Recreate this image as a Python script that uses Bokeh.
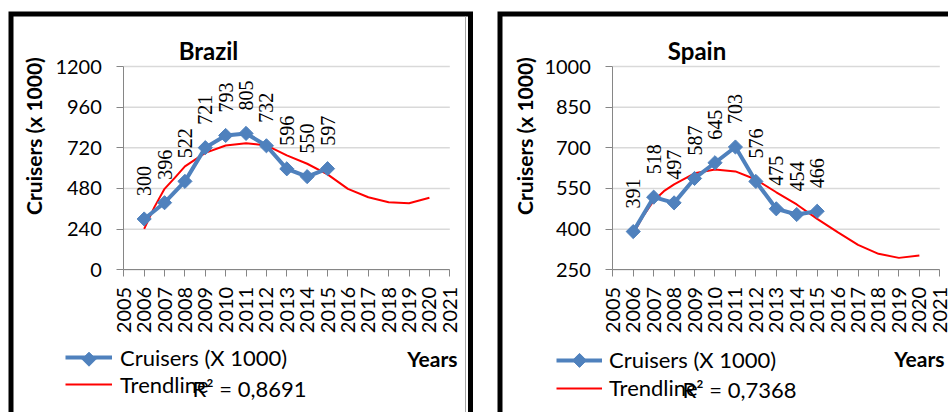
import math

from bokeh.embed import file_html
from bokeh.layouts import row
from bokeh.models import (BoxAnnotation, ColumnDataSource, FixedTicker, Label,
                          LabelSet, Legend, LegendItem, LinearAxis,
                          PolyAnnotation, Range1d)
from bokeh.plotting import figure
from bokeh.resources import INLINE

# ---- data -----------------------------------------------------------------
years = [2006, 2007, 2008, 2009, 2010, 2011, 2012, 2013, 2014, 2015]
brazil_cruisers = [300, 396, 522, 721, 793, 805, 732, 596, 550, 597]
spain_cruisers = [391, 518, 497, 587, 645, 703, 576, 475, 454, 466]

trend_years = [2006, 2006.5, 2007, 2007.5, 2008, 2009, 2010, 2011, 2012,
               2013, 2014, 2015, 2016, 2017, 2018, 2019, 2020]
brazil_trend = [242, 370, 478, 543, 610, 690, 734, 747, 734,
                675, 626, 563, 478, 428, 399, 393, 425]
spain_trend = [383, 450, 505, 540, 565, 606, 620, 613, 583,
               536, 491, 438, 389, 342, 309, 294, 303]

axis_years = list(range(2005, 2022))
brazil_yticks = [0, 240, 480, 720, 960, 1200]
spain_yticks = [250, 400, 550, 700, 850, 1000]

brazil_r2 = "R² = 0,8691"
spain_r2 = "R² = 0,7368"

# ---- styling ----------------------------------------------------------------
FONT = "Lato"
BLUE = "#4F81BD"
RED = "#FF0000"
AXIS_GRAY = "#868686"
GRID_GRAY = "#D9D9D9"
HEIGHT = 412
PLOT_TOP, PLOT_BOTTOM = 66, 269.3   # pixel rows of the value-axis ends


def span_range(size, px_lo, px_hi, v_lo, v_hi):
    """Range whose values v_lo/v_hi land at pixels px_lo/px_hi of a frame of `size` px."""
    scale = (px_hi - px_lo) / (v_hi - v_lo)
    return Range1d(v_lo - px_lo / scale, v_hi + (size - px_hi) / scale)


def make_panel(name, values, trend, yticks, r2_text, width, x_px, box,
               legend_cfg, title_x, ylabel_x, years_right, r2_x, r2_y,
               inner_line=None):
    x_lo, x_hi = axis_years[0], axis_years[-1]
    y_lo, y_hi = yticks[0], yticks[-1]
    # the frame fills the whole canvas; axes sit at fixed positions inside it
    p = figure(width=width, height=HEIGHT, output_backend="svg",
               toolbar_location=None, x_axis_type=None, y_axis_type=None,
               x_range=span_range(width, x_px[0], x_px[1], x_lo, x_hi),
               y_range=span_range(HEIGHT, HEIGHT - PLOT_BOTTOM, HEIGHT - PLOT_TOP, y_lo, y_hi),
               min_border=0)
    p.outline_line_color = None
    p.background_fill_color = "white"
    p.border_fill_color = "white"
    p.xgrid.visible = False
    p.ygrid.visible = False

    xaxis = LinearAxis(fixed_location=y_lo, bounds=(x_lo, x_hi),
                       ticker=FixedTicker(ticks=axis_years))
    yaxis = LinearAxis(fixed_location=x_lo, bounds=(y_lo, y_hi),
                       ticker=FixedTicker(ticks=yticks))
    for ax in (xaxis, yaxis):
        ax.axis_line_color = AXIS_GRAY
        ax.major_tick_line_color = AXIS_GRAY
        ax.major_tick_out = 7
        ax.major_tick_in = 0
        ax.minor_tick_line_color = None
        ax.major_label_text_font = FONT
        ax.major_label_text_font_size = "20px"
        ax.major_label_text_color = "black"
    xaxis.major_label_orientation = math.pi / 2
    xaxis.major_label_standoff = 10
    yaxis.major_label_standoff = 15
    p.add_layout(xaxis, "below")
    p.add_layout(yaxis, "left")

    # horizontal gridlines across the plot area only
    p.segment(x0=[x_lo] * len(yticks), x1=[x_hi] * len(yticks), y0=yticks, y1=yticks,
              line_color=GRID_GRAY, line_width=1.5, level="underlay")

    # series
    src = ColumnDataSource(dict(x=years, y=values, t=[str(v) for v in values]))
    tsrc = ColumnDataSource(dict(x=trend_years, y=trend))
    trend_r = p.line("x", "y", source=tsrc, line_color=RED, line_width=2)
    line_r = p.line("x", "y", source=src, line_color=BLUE, line_width=4)
    p.scatter("x", "y", source=src, marker="square", angle=math.pi / 4,
              size=10, fill_color=BLUE, line_color=BLUE)

    p.add_layout(LabelSet(x="x", y="y", text="t", source=src, angle=math.pi / 2,
                          y_offset=23, text_align="left",
                          text_baseline="middle", text_font=FONT,
                          text_font_size="20px", text_color="black"))

    # black frame around the chart
    p.add_layout(BoxAnnotation(left=box[0], right=box[1], top=HEIGHT - box[2], bottom=-20,
                               left_units="screen", right_units="screen",
                               top_units="screen", bottom_units="screen",
                               fill_alpha=0, line_color="black", line_alpha=1,
                               line_width=5, line_join="miter"))
    if inner_line is not None:
        p.add_layout(BoxAnnotation(left=inner_line - 0.5, right=inner_line + 0.5,
                                   top=HEIGHT - 16, bottom=-20,
                                   left_units="screen", right_units="screen",
                                   top_units="screen", bottom_units="screen",
                                   fill_color="#A6A6A6", fill_alpha=1, line_alpha=0))

    def text(x, y, s, size, bold=False, align="center", angle=0.0):
        p.add_layout(Label(x=x, y=HEIGHT - y, x_units="screen", y_units="screen",
                           text=s, angle=angle, text_font=FONT,
                           text_font_style="bold" if bold else "normal",
                           text_font_size=size, text_align=align,
                           text_baseline="middle", text_color="black"))

    text(title_x, 50, name, "24px", bold=True)
    text(ylabel_x, 135.5, "Cruisers (x 1000)", "21px", bold=True, angle=math.pi / 2)
    text(years_right, 358, "Years", "21px", bold=True, align="right")

    # legend
    glyph_w, glyph_h, standoff, lx, l_bottom = legend_cfg
    legend = Legend(items=[LegendItem(label="Cruisers (X 1000)", renderers=[line_r]),
                           LegendItem(label="Trendline", renderers=[trend_r])],
                    location=(lx, HEIGHT - l_bottom), orientation="vertical",
                    glyph_width=glyph_w, glyph_height=glyph_h, label_height=glyph_h,
                    label_standoff=standoff, spacing=0, padding=0, margin=0,
                    border_line_color=None, background_fill_alpha=0,
                    label_text_font=FONT, label_text_font_size="22px",
                    label_text_color="black")
    p.add_layout(legend)

    # diamond swatch on the first legend entry
    cx = lx + glyph_w / 2
    cy = HEIGHT - (l_bottom - 1.5 * glyph_h)
    d = 7
    p.add_layout(PolyAnnotation(xs=[cx, cx + d, cx, cx - d], ys=[cy + d, cy, cy - d, cy],
                                xs_units="screen", ys_units="screen",
                                fill_color=BLUE, fill_alpha=1,
                                line_color=BLUE, line_alpha=1, line_width=1))

    text(r2_x, r2_y, r2_text, "22px", align="left")
    return p


left = make_panel("Brazil", brazil_cruisers, brazil_trend, brazil_yticks, brazil_r2,
                  width=485, x_px=(123.3, 449.3), box=(10.5, 470, 13.5),
                  legend_cfg=(47, 26, 8, 65, 397.7),
                  title_x=208, ylabel_x=32.5, years_right=457,
                  r2_x=192, r2_y=388, inner_line=465)

right = make_panel("Spain", spain_cruisers, spain_trend, spain_yticks, spain_r2,
                   width=463, x_px=(127.3, 454.3), box=(14.5, 500, 13.5),
                   legend_cfg=(46, 28, 7, 71, 401.9),
                   title_x=211.5, ylabel_x=39, years_right=459,
                   r2_x=197, r2_y=389)

layout = row(left, right, spacing=0)
open("out.html", "w").write(file_html(layout, INLINE))
